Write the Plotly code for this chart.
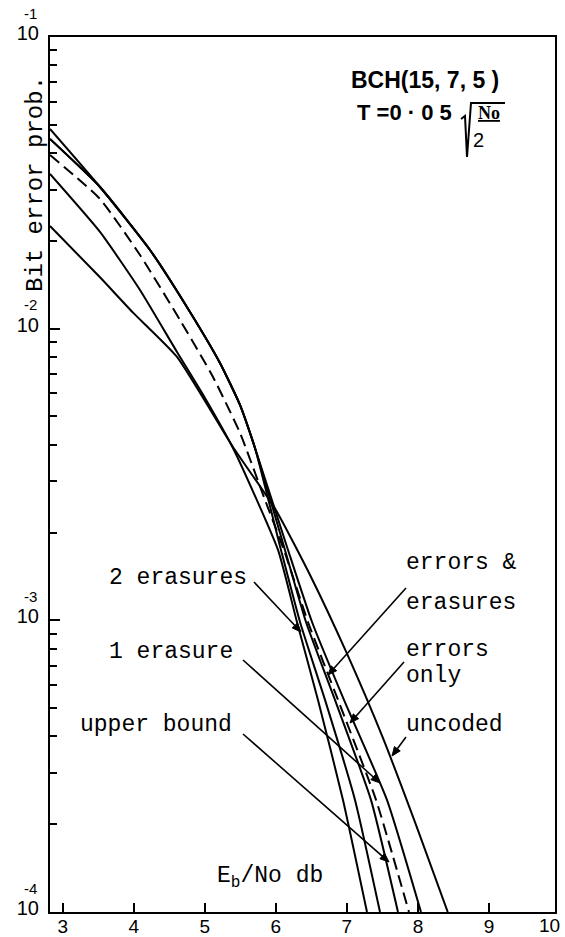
import math
import plotly.graph_objects as go

# ---------------- data ----------------
x_uncoded = [2.82, 3.524, 3.989, 4.608, 5.396, 6.0, 6.5, 7.0, 7.5, 8.0, 8.42]
y_uncoded = [0.0225, 0.0150, 0.01135, 0.0080, 0.00393, 0.00239, 0.00140, 0.00077, 0.000399, 0.000191, 0.0001]

x_upper = [2.82, 3.524, 4.228, 4.791, 5.213, 5.495, 5.706, 6.072, 6.340, 6.692, 7.114, 7.466]
y_upper = [0.04837, 0.0306, 0.01861, 0.01141, 0.007626, 0.005474, 0.003899, 0.001743, 0.000987, 0.0005335, 0.0002423, 0.0001]

x_errors_only = [2.82, 3.524, 4.228, 4.791, 5.213, 5.495, 5.706, 6.128, 6.424, 6.832, 7.339, 7.719]
y_errors_only = [0.0447, 0.0306, 0.01861, 0.01141, 0.007626, 0.005474, 0.003899, 0.001743, 0.000987, 0.0005335, 0.0002423, 0.0001]

x_err_eras = [2.82, 3.524, 4.087, 4.650, 5.115, 5.495, 5.847, 6.114, 6.452, 6.875, 7.410, 7.874]
y_err_eras = [0.0394, 0.02783, 0.01789, 0.01071, 0.00683, 0.00439, 0.002586, 0.001743, 0.000987, 0.0005335, 0.0002423, 0.0001]

x_one_eras = [2.82, 3.524, 4.228, 4.791, 5.213, 5.495, 5.706, 6.171, 6.509, 6.959, 7.564, 8.043]
y_one_eras = [0.0447, 0.0306, 0.01861, 0.01141, 0.007626, 0.005474, 0.003899, 0.001743, 0.000987, 0.0005335, 0.0002423, 0.0001]

x_two_eras = [2.82, 3.524, 4.087, 4.608, 5.002, 5.410, 6.030, 6.297, 6.593, 6.945, 7.283]
y_two_eras = [0.03391, 0.02146, 0.01357, 0.00832, 0.00579, 0.003839, 0.001743, 0.000987, 0.0005335, 0.0002423, 0.0001]

x_tickvals = [3, 4, 5, 6, 7, 8, 9]
x_ticktext = ["3", "4", "5", "6", "7", "8", "9"]
y_tickvals = [1e-4, 1e-3, 1e-2, 1e-1]
y_ticktext = ["10", "10", "10", "10"]
y_exponents = ["-4", "-3", "-2", "-1"]
y_exp_pos = [-4, -3, -2, -1]

# ---------------- layout geometry ----------------
W, H = 565, 937
ML, MR, MT, MB = 50, 10, 37, 25
PW, PH = W - ML - MR, H - MT - MB


def fx(p):  # pixel x -> paper
    return (p - ML) / PW


def fy(p):  # pixel y -> paper
    return (H - MB - p) / PH


fig = go.Figure()
series = [
    (x_uncoded, y_uncoded, "solid"),
    (x_upper, y_upper, "solid"),
    (x_errors_only, y_errors_only, "solid"),
    (x_err_eras, y_err_eras, "12px,6px"),
    (x_one_eras, y_one_eras, "solid"),
    (x_two_eras, y_two_eras, "solid"),
]
for xs, ys, d in series:
    fig.add_trace(go.Scatter(x=xs, y=ys, mode="lines",
                             line=dict(color="black", width=2, dash=d, shape="spline", smoothing=0.5),
                             showlegend=False, hoverinfo="skip"))

mono = "Liberation Mono"
sans = "Liberation Sans"

fig.update_layout(
    width=W, height=H,
    margin=dict(l=ML, r=MR, t=MT, b=MB, pad=0),
    paper_bgcolor="white", plot_bgcolor="white",
    showlegend=False,
    xaxis=dict(range=[2.82, 9.93], tickvals=x_tickvals, ticktext=x_ticktext, automargin=False,
               ticks="inside", ticklen=9, tickwidth=2, tickcolor="black",
               showline=True, linecolor="black", linewidth=2, mirror=True,
               showgrid=False, zeroline=False, ticklabelstandoff=-4,
               tickfont=dict(family=sans, size=19, color="black")),
    yaxis=dict(type="log", range=[-4, -1], tickvals=y_tickvals, ticktext=y_ticktext, automargin=False,
               ticks="inside", ticklen=10, tickwidth=2, tickcolor="black",
               minor=dict(ticks="inside", ticklen=7, tickwidth=2, tickcolor="black", dtick="D1", showgrid=False),
               showline=True, linecolor="black", linewidth=2, mirror=True,
               showgrid=False, zeroline=False, ticklabelshift=-4, ticklabelstandoff=5,
               tickfont=dict(family=sans, size=20, color="black")),
)


def txt(text, x, y, size, family, anchor="center", **kw):
    font = dict(family=family, size=size, color="black")
    font.update(kw.pop("font", {}))
    d = dict(text=text, xref="paper", yref="paper", x=fx(x), y=fy(y), showarrow=False,
             xanchor=anchor, yanchor="middle", font=font)
    d.update(kw)
    return d


ann = []
# exponents of the y tick labels
for e, p in zip(y_exponents, y_exp_pos):
    ann.append(dict(text=e, xref="paper", yref="y", x=fx(30), y=p, yshift=24, showarrow=False,
                    xanchor="center", yanchor="middle", font=dict(family=sans, size=15, color="black")))
# tick label for 10 at right border
ann.append(txt("10", 549, 925, 19, sans))
# axis titles
ann.append(txt("Bit error prob.", 35, 184, 24, mono, textangle=-90))
ann.append(txt("E<sub>b</sub>/No db", 270, 877, 23, mono))
# code description
ann.append(txt("BCH(15, 7, 5 )", 425, 80, 23, sans, font=dict(weight="bold")))
ann.append(txt("T =0 · 0 5", 404, 112, 22, sans, font=dict(weight="bold")))
ann.append(txt("<u>No</u>", 489, 113, 18, "Liberation Serif", font=dict(weight="bold")))
ann.append(txt("2", 478, 140, 20, sans))

# curve labels (left edge pixel, centre pixel)
labels = [
    ("2 erasures", 107, 578),
    ("1 erasure", 107, 652),
    ("upper bound", 78, 725),
    ("errors &", 404, 563),
    ("erasures", 404, 603),
    ("errors", 404, 650),
    ("only", 404, 676),
    ("uncoded", 404, 725),
]
for t, x0, y0 in labels:
    ann.append(txt(t, x0, y0, 23, mono, anchor="left"))

fig.update_layout(annotations=ann)

# leader arrows (tail pixel, tip pixel), drawn as line + filled arrowhead
arrows = [
    ((254, 582), (301, 632)),
    ((243, 660), (380, 783)),
    ((243, 734), (389, 862)),
    ((406, 588), (328, 675)),
    ((404, 662), (350, 723)),
    ((406, 737), (392, 756)),
]
HEAD_L, HEAD_W = 9.0, 3.6
for (tx, ty), (hx, hy) in arrows:
    dx, dy = hx - tx, hy - ty
    n = math.hypot(dx, dy)
    ux, uy = dx / n, dy / n
    bx, by = hx - HEAD_L * ux, hy - HEAD_L * uy
    fig.add_shape(type="line", xref="paper", yref="paper",
                  x0=fx(tx), y0=fy(ty), x1=fx(bx), y1=fy(by),
                  line=dict(color="black", width=1.6))
    p1 = (bx - HEAD_W * uy, by + HEAD_W * ux)
    p2 = (bx + HEAD_W * uy, by - HEAD_W * ux)
    fig.add_shape(type="path", xref="paper", yref="paper",
                  path="M %f,%f L %f,%f L %f,%f Z" % (fx(hx), fy(hy), fx(p1[0]), fy(p1[1]), fx(p2[0]), fy(p2[1])),
                  fillcolor="black", line=dict(color="black", width=1))

# radical sign
fig.add_shape(type="path", xref="paper", yref="paper",
              path="M %f,%f L %f,%f L %f,%f L %f,%f L %f,%f" % (
                  fx(461), fy(119), fx(465), fy(116), fx(467), fy(157), fx(471), fy(103), fx(505), fy(103)),
              line=dict(color="black", width=2))

fig.write_html("out.html", config={"displayModeBar": False},
               post_script="document.body.style.margin='0';document.body.style.overflow='hidden';")
